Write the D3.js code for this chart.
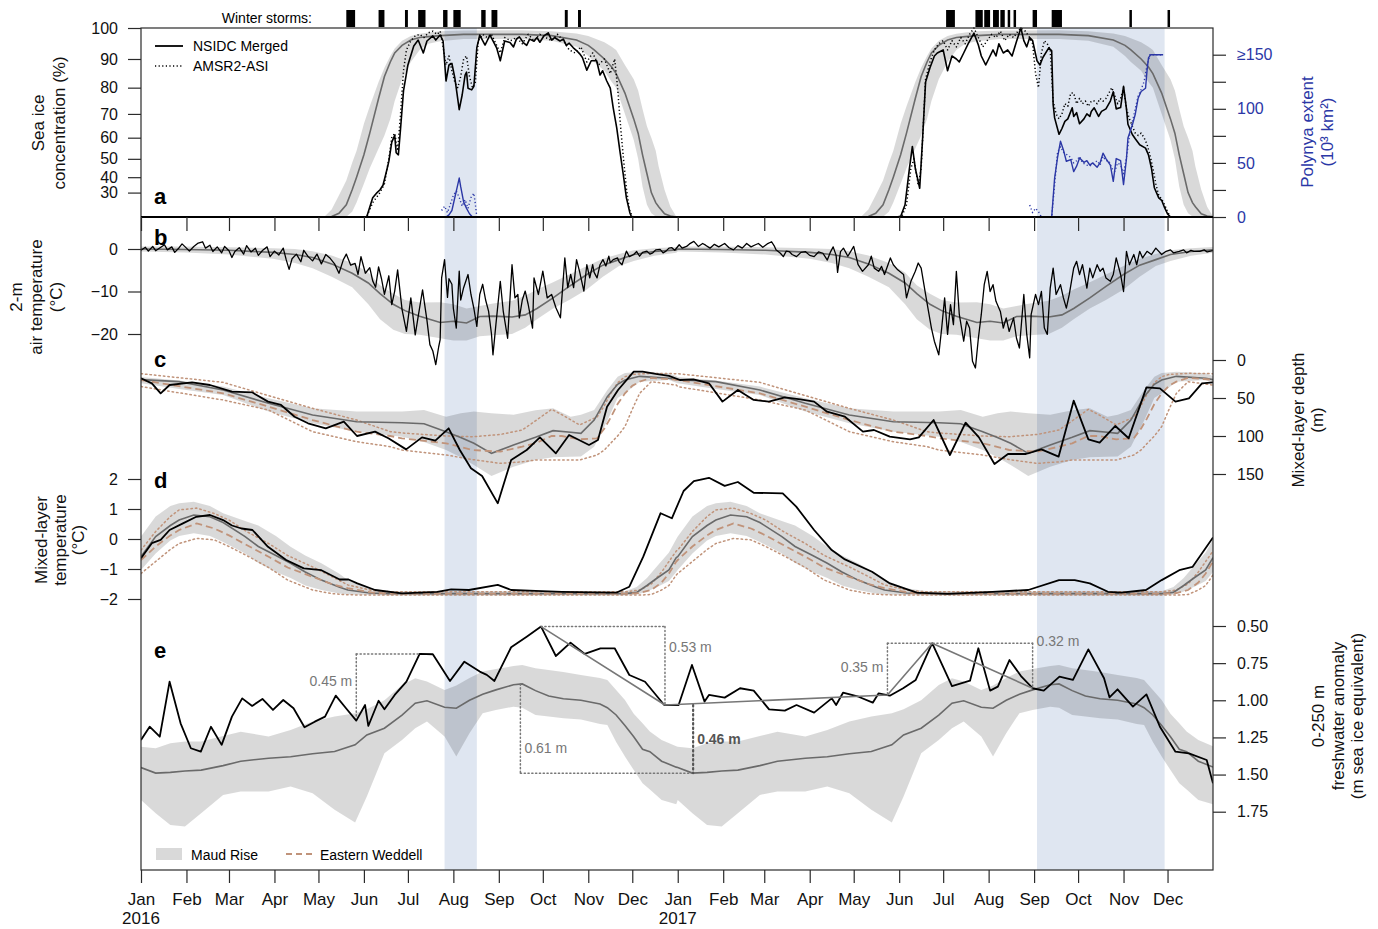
<!DOCTYPE html>
<html>
<head>
<meta charset="utf-8">
<title>Maud Rise 2016-2017</title>
<script src="https://d3js.org/d3.v7.min.js"></script>
<style>
  body { margin: 0; background: #fff; }
  text { font-family: "Liberation Sans", Arial, Helvetica, sans-serif; }
</style>
</head>
<body>
<div id="chart"></div>
<script>
// ---------------- data ----------------
// "day" = days since 1 Jan 2016, "doy" = day of year (climatologies, repeated for both years)
var monthNames = ["Jan","Feb","Mar","Apr","May","Jun","Jul","Aug","Sep","Oct","Nov","Dec"];
var yearLabels = [["2016-01-01","2016"],["2017-01-01","2017"]];
var climYears = [2016, 2017];

var winterStorms = [
  ["2016-05-20","2016-05-26"],["2016-06-11","2016-06-15"],["2016-06-29","2016-07-01"],["2016-07-08","2016-07-13"],
  ["2016-07-25","2016-07-28"],["2016-08-01","2016-08-06"],["2016-08-20","2016-08-23"],["2016-08-27","2016-08-31"],
  ["2016-10-16","2016-10-18"],["2016-10-25","2016-10-27"],
  ["2017-07-03","2017-07-09"],["2017-07-23","2017-07-28"],["2017-07-29","2017-08-02"],["2017-08-04","2017-08-08"],
  ["2017-08-09","2017-08-12"],["2017-08-14","2017-08-15"],["2017-08-18","2017-08-19"],["2017-08-31","2017-09-03"],
  ["2017-09-13","2017-09-20"],["2017-11-05","2017-11-06"],["2017-12-01","2017-12-02"]
];
var polynyaPeriods = [["2016-07-26","2016-08-17"],["2017-09-03","2017-11-29"]];

// (a) sea ice concentration, %
var iceTicks = [30,40,50,60,70,80,90,100];
var iceClim = [ // doy, low, median, high (Maud Rise)
  [0,0,0,0],[120,0,0,0],[125,0,0,2],[130,0,3,15],[135,0,10,28],[140,2,20,38],[144,12,32,48],[147,22,40,54],
  [152,36,52,66],[156,45,62,73],[162,55,76,82],[166,61,84,87],[170,68,89,91],[173,75,92,93.5],[178,83,94.5,96],
  [184,89,96.2,97.5],[190,93,97,98.2],[196,95,97.3,98.6],[204,95.8,97.6,99],[220,96.5,98,99.2],[260,96.5,98,99.3],
  [280,96,97.6,99],[297,94,96.2,98.3],[305,91,94.5,97.5],[309,89,93,96.8],[316,86,90,95.5],[321,82,87.3,94],
  [324,80,85,93],[330,70,78,88],[336,59,68,83],[339,50,62,79],[342,34,52,72],[345,20,42,65],[348,10,30,60],
  [351,3,22,54],[353,0,18,46],[357,0,9,32],[361,0,4.6,18],[365,0,1,3]
];
var nsidcMerged = [
  [0,0],[150,0],[154,3],[158,26],[161,30],[163,32],[165,35],[167,42],[169,48.7],[171,58],[173,61],[174,53],[175.5,52],
  [177,64],[179,78.8],[182,88],[186,94.3],[189,96.2],[192.5,92],[195,95.9],[199,97.5],[201,96.2],[204,97.8],[206,95.9],
  [208,82.4],[210,88],[212,88.5],[214,83.5],[217,71.7],[219,77.3],[221,84.5],[222,85.5],[223,79.8],[225.5,79.2],[227,80.5],
  [229,93.7],[231,97.8],[234.6,94.6],[238,97.8],[242.5,93.7],[245,89.4],[248,95.9],[251.6,95.4],[254,94],[256,96.5],
  [258,97.2],[260.7,95.4],[263,94.5],[265,96.5],[268,95.8],[270,97],[272,95.5],[274.7,97.5],[277.7,98.5],[280,96.2],
  [282,97],[285.7,95.9],[288,96.5],[290,94.5],[292,95.2],[294.8,93.7],[297,92.8],[299,91.8],[301,90.5],[304,86.2],
  [307,89.4],[310.7,89.4],[313,84.5],[314.8,86],[317.6,82.4],[320,79.8],[322,72.4],[324.4,64.3],[326.6,53.7],
  [328.9,41.4],[331,26],[333.4,10.4],[334.5,0],
  [515,0],[518,3],[521,20],[524,45],[526,56],[528,45],[531,33],[533,60],[535,82],[538,87],[541,91],[543,92],[547,93],
  [550,86],[553,91],[556,90],[558,89],[561,92],[564,95],[568,98.4],[571,94.6],[573,91],[576,88],[578,90],[581,93],
  [583,91],[585,95],[588,92],[591,93],[594,91],[597,95.7],[600,100],[602,96],[604,94],[606,97],[608,96],[611,89.4],
  [613,88],[615,90.5],[619,93.7],[621,92.7],[622,73.6],[623,68.4],[626,61.5],[628,64],[630,67],[632,68],[635,72.4],
  [636,69],[638,70.5],[640,66],[643,68],[645,70],[647,69],[648,71],[650,72.4],[653,69],[655,71],[658,72],[661,75],
  [663,78.5],[665,72],[668,72.5],[670,80.5],[672,72],[673,65.8],[676,61.4],[678,59.5],[681,56.8],[685,55.2],[687,52],
  [689,45.2],[691,33.4],[694,26],[696,24],[698,17],[700,9],[702,0],[731,0]
];
var amsr2Asi = [
  [0,0],[150,0],[154,2],[158,22],[163,30],[166,36],[169,50],[171,60],[173,62],[175,54],[177,70],[179,86],[181,93],
  [184,96],[187,97.5],[190,98],[193,97],[196,98.5],[199,99],[202,98],[204,99],[206,94],[208,88],[210,91],[212,86],
  [214,82],[216,80],[218,84],[220,90],[222,91],[224,84],[226,80],[228,82],[230,96],[233,98],[236,97],[239,98],
  [242,95],[245,92],[248,97],[252,96],[256,97],[260,95],[264,98],[268,96],[272,98],[276,97],[280,96],[284,98],
  [288,96],[292,93],[296,92],[300,94],[304,89],[308,92],[312,88],[316,90],[320,85],[323,90],[325,80],[327,65],
  [329,50],[331,33],[333,15],[335,3],[337,0],
  [515,0],[519,5],[522,20],[525,45],[527,50],[530,35],[532,45],[535,83],[538,89],[541,93],[544,95],[547,96],[550,93],
  [553,96],[556,94],[559,97],[562,95],[565,98],[568,100],[571,97],[574,94],[577,96],[580,98],[583,97],[586,99],
  [589,96],[592,98],[595,97],[598,99],[600,100],[603,99],[606,97],[608,95],[610,85],[612,80],[614,92],[616,96],
  [618,95],[620,93],[622,75],[624,70],[626,68],[628,70],[630,74],[632,73],[634,78],[636,78],[638,74],[640,76],
  [642,74],[644,75],[646,73],[648,75],[650,75],[652,74],[654,76],[656,75],[658,76],[660,78],[662,80],[664,77],
  [666,74],[668,76],[670,80],[672,72],[674,68],[676,65],[678,62],[680,61],[682,62],[684,60],[686,57],[688,52],
  [690,45],[692,36],[694,28],[696,25],[698,20],[700,12],[702,2],[704,0],[731,0]
];
// polynya extent, 10^3 km2 (150 = ">=150")
var polynyaTicks = [0,25,50,75,100,125,150];
var polynyaLabels = {0:"0",50:"50",100:"100",150:"\u2265150"};
var polynyaNsidc2016 = [[208,0],[210,2],[212,6],[214,18],[216,30],[217,36],[218,28],[220,14],[222,8],[224,3],[226,0],[229,0]];
var polynyaAmsr2016 = [[205,6],[207,10],[209,4],[211,12],[213,20],[215,24],[217,18],[219,10],[221,16],[223,8],[225,18],[227,22],[228,12],[229,0]];
var polynyaNsidc2017 = [
  [612,0],[621,0],[623,36],[625,55],[627,70],[629,62],[631,51.5],[634,53],[636,42],[638,47],[640,54.5],[643,50.5],
  [645,52],[647,48],[649,50],[652,46],[654,50],[656,59],[658,54],[661,48],[663,33],[665,54],[668,52],[670,30],[672,54],
  [673,73],[676,85],[678,95],[680,110],[682,116],[685,119],[686,135],[687,147],[688.5,150],[697,150]
];
var polynyaAmsr2017 = [
  [606,11],[608,4],[610,8],[612,5],[614,0],[621,0],[623,30],[625,60],[627,65],[629,60],[631,58],[634,55],[636,50],
  [638,52],[640,56],[642,50],[645,48],[647,47],[650,50],[652,52],[654,48],[656,56],[658,52],[660,52],[662,45],[664,42],
  [666,50],[668,48],[670,40],[672,55],[674,75],[676,88],[678,100],[680,112],[682,118],[684,125],[686,140],[688,150],[697,150]
];

// (b) 2-m air temperature, degC
var airTicks = [0,-10,-20];
var airClim = [ // doy, cold edge, median, warm edge
  [0,-0.6,0,0.6],[30,-0.8,-0.1,0.6],[60,-1.3,-0.3,0.4],[90,-2.3,-0.8,0.2],[105,-3.3,-1.3,0],[117,-4.5,-2,-0.5],
  [130,-6.5,-3.5,-1.5],[144,-9,-5.7,-3.3],[155,-13,-8,-5.5],[163,-16.5,-10.5,-8.5],[172,-19,-13,-10.5],[180,-20,-14.5,-12],
  [190,-20.2,-15.8,-12.6],[204,-21,-17.3,-12.5],[213,-21.5,-17,-13],[222,-21.5,-17.4,-14],[231,-20.5,-15.9,-13.4],
  [240,-20.3,-15.8,-12.8],[253,-20,-16,-12.2],[262,-18.5,-15.5,-11],[270,-16.5,-14,-9.5],[281,-14,-11.5,-7.8],
  [292,-12,-8.8,-6],[304,-9.5,-6,-4],[315,-6.5,-3.8,-2.3],[326,-4,-2.5,-1.2],[336,-2.8,-1.3,-0.3],[350,-1.6,-0.6,0.2],
  [365,-0.9,-0.2,0.5]
];
var airTemp = [
  [0,-0.3],[3,0.4],[5,-0.5],[8,0.6],[10,-0.4],[13,0.3],[16,1],[18,-0.2],[21,0.5],[23,-0.8],[26,0.3],[28,1.2],[31,0.2],
  [33,-0.5],[36,0.6],[39,1.4],[42,1.7],[44,0.2],[47,0.9],[49,-0.6],[52,0.5],[55,-0.9],[57,0.6],[60,-0.4],[62,-2],
  [64,-0.6],[67,0.3],[70,-1.2],[72,0.8],[75,-0.7],[78,0.2],[80,-1.5],[83,-0.3],[86,0.5],[88,-1.8],[91,-0.5],[94,-1.4],
  [97,0.2],[99,-2.5],[101,-4.8],[103,-2.3],[106,-1.2],[109,-3],[111,-0.3],[114,-1.8],[117,-2.8],[120,-1.2],[123,-3.5],
  [126,-1.3],[129,-2.2],[132,-3.5],[135,-5.7],[138,-2.5],[140,-1.2],[143,-3.8],[146,-3.4],[148,-6],[150,-1.8],
  [153,-5.7],[156,-4.4],[158,-7.5],[160,-9],[162,-4.2],[164,-7],[166,-10.7],[169,-6.3],[171,-13.1],[173,-9.9],
  [175,-4.9],[178,-14.2],[181,-19.4],[184,-11.5],[187,-20.2],[189,-15.9],[192,-9.6],[195,-16.8],[197,-22.5],[199,-24],
  [201,-27.2],[203,-23],[204,-21.3],[205,-6.8],[207,-2.5],[209,-11.4],[210,-7],[212,-8.3],[213,-14],[215,-18.6],
  [217,-5.2],[218,-12],[220,-9.1],[223,-6],[225,-10.7],[227,-14],[229,-18.2],[231,-10.7],[233,-8.3],[235,-12],
  [237,-14.6],[239,-20],[240,-24.9],[242,-17.8],[245,-7.6],[247,-14.6],[250,-21],[253,-3.7],[255,-11.5],[257,-10.7],
  [258,-16.2],[260,-12],[262,-9.9],[264,-13],[267,-18.6],[268,-6.8],[271,-10.7],[274,-5.2],[277,-11.5],[280,-10.7],
  [283,-13.9],[286,-16.2],[289,-2.1],[291,-9.1],[293,-6],[295,-9.1],[297,-2.5],[299,-5.2],[302,-9.9],[304,-3.7],
  [306,-6.8],[308,-3.7],[309,-5.5],[311,-6.8],[313,-3.7],[315,-2.5],[317,-4],[319,-1.7],[320,-3.2],[322,-2.5],
  [325,-2.1],[326,-3],[328,-3.7],[331,-0.5],[333,-1.8],[336,-1.3],[338,-0.6],[340,-1.7],[342,-0.8],[345,-0.5],
  [347,-1.2],[349,-0.9],[351,-0.2],[354,-0.1],[356,-0.9],[358,-0.5],[360,0.2],[362,0.3],[364,-0.3],[367,1],[369,0.2],
  [372,0.6],[374,1.2],[377,1.8],[380,0.6],[383,1.3],[385,0.9],[388,0.2],[391,1.1],[394,0.5],[398,1.3],[401,0.3],
  [404,-0.2],[407,0.8],[410,0.2],[413,1.3],[416,0.5],[419,1],[421,1.3],[424,0.4],[427,1.2],[430,1.7],[432,0.6],
  [433,-0.2],[436,-1],[438,-1.8],[440,-0.5],[442,-0.6],[444,-1.3],[447,-1.8],[450,-0.8],[453,-0.6],[456,-1.5],
  [459,-1.8],[462,-0.7],[465,-1],[468,-2.6],[470,-0.8],[472,0.5],[474,-1.5],[475,-5.5],[477,-0.6],[479,0.2],[482,-1.7],
  [486,0.6],[489,-3.7],[492,-5.25],[496,-3.7],[498,-1.7],[500,-4.5],[503,-5.25],[505,-4.1],[507,-6],[511,-2.1],
  [513,-3.7],[516,-4.9],[520,-6],[522,-11.5],[525,-7.6],[528,-5.25],[530,-3.3],[532,-4.5],[535,-10.7],[537,-14.7],
  [539,-18.6],[541,-21.7],[544,-24.9],[546,-18.6],[548,-11.5],[550,-20.1],[552,-13.1],[554,-17.8],[556,-5.25],
  [558,-15.4],[561,-21.7],[563,-17],[565,-18.6],[567,-26.4],[569,-28],[571,-21],[573,-15.4],[575,-8.4],[577,-5.25],
  [579,-10],[581,-8.4],[583,-12.3],[586,-14.7],[588,-18.6],[590,-16.2],[592,-19.4],[595,-16.2],[597,-21],[599,-23.3],
  [602,-10.7],[604,-20.1],[606,-25.6],[607,-15.4],[610,-10.7],[612,-13.1],[614,-10],[616,-18.6],[618,-20.1],
  [620,-9.2],[622,-4.5],[624,-10.7],[627,-8.4],[629,-11.5],[631,-13.9],[633,-10.7],[636,-4.5],[638,-2.9],[640,-6],
  [642,-3.7],[645,-9.2],[647,-4.5],[649,-6.8],[652,-3.7],[654,-5.25],[656,-4.5],[658,-6.8],[661,-7.6],[663,-6],
  [665,-2.1],[668,-6],[670,-10],[672,-0.55],[674,-3.7],[677,-1.3],[679,-3.7],[681,-0.55],[683,-2.1],[686,-0.55],
  [689,-1.3],[692,0.2],[696,-1.3],[699,-0.55],[702,-0.2],[704,-0.9],[708,-0.55],[711,-0.2],[713,-0.9],[716,-0.3],
  [718,-0.55],[722,-0.55],[725,-0.2],[727,-0.7],[731,-0.4]
];

// (c) mixed-layer depth, m
var mldTicks = [0,50,100,150];
var mldMaud = [ // doy, shallow edge, median, deep edge
  [0,22.4,25.8,30.7],[26,27,28.5,38],[56,35,39.5,46],[87,50.4,57,67.9],[117,63.6,72.4,83.3],[147,67.9,81.2,94.3],
  [178,67.9,82.5,100.9],[193,65.8,83.8,108],[208,74.6,94.3,118.4],[218,70,102,128],[227,67.9,109.6,138],
  [239,70,122.8,152.6],[254,72,111.8,140.4],[269,66,101.8,131.6],[281,63.6,93,128],[293,74.6,95,127.2],
  [300,72,96.5,127],[309,65.8,79,114],[318,39.5,48.3,80],[325,22,32,50],[330,17,26.3,43.9],[340,15.4,21.5,28.5],
  [360,17.5,24,26.3],[365,21,25.8,30]
];
var mldWeddell = [ // doy, shallow dotted, dashed median, deep dotted
  [0,18,26.3,35],[56,29.4,43.9,52.6],[87,46.9,61.4,65.8],[117,63.6,79,94.3],[147,79,94.3,107.5],[170,94.3,100,114],
  [178,96,103,118.4],[208,100,109.6,125],[226,101,118.4,131],[245,98,120.6,136],[260,92.1,114,134],[269,80,109.6,131.6],
  [280,64.9,100,131.6],[287,72,100,131.6],[299,85.5,104.4,131.6],[311,75,103,125],[316,60,90,118.4],[320,45,76.8,110],
  [325,30,58,100],[330,22,43.9,87.7],[335,19,34,65],[340,18.4,28.5,43.9],[348,17.5,23.5,28.5],[365,18,26,33]
];
var mldFloat = [
  [0,24],[7.4,30.7],[13.4,43.9],[19.5,32.9],[34.8,29.4],[47,32.9],[62,41.7],[75.7,42.5],[86.6,54.8],[95.5,59.2],
  [104.7,74.6],[113.9,83.3],[126,89.9],[138.3,81.2],[147.3,100],[159.6,94.3],[168.7,103],[180.8,117.6],[191.6,101.8],
  [200.7,106.1],[209.8,89.9],[217.4,118.4],[225,142.5],[232.6,152.6],[243.3,188.6],[252.4,131.6],[263,118.4],
  [272,101.8],[282.9,122.8],[291.9,98.7],[305.5,111.8],[311.6,105.3],[317.8,61.4],[325.3,39.5],[336,15.4],[342,15.4],
  [351,18.4],[360,21],[367.5,26.3],[376.7,25.4],[387.3,30.7],[396.5,54.8],[407,39.5],[417.8,52.6],[428.2,54.8],
  [439,49.1],[449.7,51.8],[459,54.8],[467.8,68],[480,74.6],[492.3,94.3],[499.8,92.1],[510.6,100.9],[524.4,104.4],
  [530.4,101.8],[540.5,79],[551.6,125],[562.3,82.5],[571.4,101.8],[582,136.8],[591.2,123.7],[603.4,123.7],[614,117.5],
  [625.7,127.2],[636,53.5],[646,104.4],[653.7,108.8],[664.4,86.8],[673.5,103],[685.6,36],[694.8,37.3],[705.4,54.8],
  [714.6,50.4],[723.5,30.7],[731,29.4]
];

// (d) mixed-layer temperature, degC
var mltTicks = [2,1,0,-1,-2];
var mltMaud = [ // doy, cold edge, median, warm edge
  [0,-1.03,-0.59,0.08],[10,-0.48,0.08,0.75],[20,-0.05,0.45,1.1],[26,0.1,0.63,1.19],[36,0.19,0.8,1.24],[47,0.1,0.74,1.1],
  [56,-0.1,0.55,0.86],[71,-0.48,0.08,0.6],[80,-0.8,-0.25,0.45],[92,-1.1,-0.55,0.1],[102,-1.3,-0.81,-0.26],
  [112,-1.55,-1.1,-0.55],[123,-1.7,-1.37,-0.81],[135,-1.82,-1.6,-1.15],[141,-1.85,-1.7,-1.37],[156,-1.87,-1.8,-1.64],
  [170,-1.88,-1.82,-1.74],[330,-1.88,-1.82,-1.74],[338,-1.86,-1.78,-1.6],[345,-1.75,-1.55,-1.3],[352,-1.6,-1.3,-0.9],
  [360,-1.4,-1.03,-0.45],[365,-1.1,-0.62,0]
];
var mltWeddell = [ // doy, cold dotted, dashed median, warm dotted
  [0,-1.15,-0.7,-0.37],[10,-0.75,-0.25,0.25],[20,-0.35,0.12,0.75],[26,-0.15,0.3,0.97],[38,0.02,0.52,1.03],
  [50,-0.03,0.35,0.85],[60,-0.25,0.12,0.63],[72,-0.55,-0.2,0.25],[87,-0.95,-0.59,-0.15],[100,-1.37,-0.95,-0.55],
  [117,-1.7,-1.26,-0.93],[130,-1.82,-1.5,-1.25],[141,-1.86,-1.64,-1.53],[158,-1.87,-1.79,-1.72],[170,-1.87,-1.82,-1.76],
  [330,-1.87,-1.82,-1.76],[340,-1.87,-1.8,-1.7],[348,-1.85,-1.7,-1.5],[355,-1.7,-1.45,-1.1],[360,-1.55,-1.15,-0.75],
  [365,-1.2,-0.75,-0.4]
];
var mltFloat = [
  [0,-0.64],[7.4,-0.14],[13.4,-0.03],[19.5,0.3],[28.6,0.52],[37.7,0.74],[47,0.8],[56,0.63],[62,0.45],[68.5,0.35],
  [76,0.3],[86.6,-0.26],[99,-0.7],[111,-0.98],[123,-1.04],[135.5,-1.35],[141.5,-1.35],[147.5,-1.48],[159.6,-1.7],
  [178,-1.81],[202,-1.76],[211.5,-1.68],[223.6,-1.7],[243.3,-1.53],[252.4,-1.7],[269,-1.73],[287,-1.76],[309,-1.78],
  [324,-1.79],[333,-1.59],[342.5,-0.59],[354.3,0.86],[362,0.69],[370,1.6],[377,1.93],[387.3,2.04],[398,1.77],
  [407,1.9],[417.8,1.54],[437.6,1.52],[446.8,1.08],[459,0.3],[471,-0.37],[480,-0.68],[498.5,-1.09],[510.7,-1.48],
  [529,-1.79],[550,-1.83],[580.6,-1.76],[605,-1.7],[626,-1.37],[636.7,-1.37],[647,-1.48],[659.4,-1.76],[668.5,-1.79],
  [685.3,-1.7],[696,-1.37],[708,-1.04],[717,-0.93],[731,0.05]
];

// (e) 0-250 m freshwater anomaly, m sea ice equivalent
var fwTicks = [0.5,0.75,1,1.25,1.5,1.75];
var fwMaud = [ // doy, top edge, median, bottom edge
  [0,1.312,1.453,1.671],[10,1.323,1.49,1.76],[20,1.29,1.485,1.84],[30,1.278,1.476,1.85],[41,1.278,1.47,1.76],
  [56,1.24,1.44,1.637],[68,1.211,1.41,1.614],[87,1.244,1.39,1.614],[102,1.2,1.38,1.58],[117,1.143,1.36,1.625],
  [132,1.11,1.345,1.737],[146,1.087,1.3,1.823],[154,1.06,1.233,1.648],[166,1.0,1.188,1.357],[178,0.897,1.1,1.267],
  [187,0.852,1.02,1.188],[195,0.874,1.003,1.143],[207,0.93,1.047,1.244],[215,0.9,1.054,1.379],[224,0.85,1.0,1.222],
  [233,0.807,0.96,1.087],[242,0.79,0.93,1.065],[254,0.77,0.895,1.043],[260,0.762,0.89,1.05],[269,0.785,0.935,1.099],
  [278,0.796,0.971,1.11],[288,0.81,0.99,1.121],[300,0.829,1.0,1.13],[313,0.85,1.025,1.16],[318,0.863,1.05,1.166],
  [324,0.93,1.099,1.28],[330,0.998,1.17,1.379],[336,1.09,1.245,1.47],[342,1.155,1.33,1.558],[347,1.21,1.346,1.6],
  [355,1.267,1.41,1.671],[365,1.31,1.45,1.7]
];
var fwFloat = [
  [0,1.267],[5.9,1.178],[12.8,1.245],[19.5,0.875],[27,1.155],[34,1.323],[40.8,1.346],[47.7,1.178],[55,1.3],[62,1.11],
  [69,0.987],[75.8,1.038],[82.8,0.991],[90,1.065],[97,0.998],[104,1.054],[111.5,1.182],[118.5,1.144],[125.5,1.11],
  [132.8,0.969],[139.8,1.054],[146.8,1.137],[152.8,1.032],[155,1.173],[162,1.003],[166,1.061],[173,0.964],[181,0.875],
  [190,0.688],[199,0.69],[210.7,0.87],[220.5,0.74],[231,0.807],[235.8,0.829],[241,0.87],[252.4,0.643],[263,0.572],
  [272.8,0.504],[282.9,0.702],[292.9,0.612],[302.6,0.688],[313.3,0.65],[323,0.65],[333,0.83],[343.7,0.875],
  [356.8,1.032],[366.6,1.032],[375.7,0.762],[384.3,1.009],[387.3,0.964],[398,0.982],[408.5,0.919],[417.8,0.935],
  [428.3,1.061],[439,1.07],[447,1.032],[459,1.083],[471,0.987],[474,1.032],[478.7,0.949],[489.3,0.976],[499,1.016],
  [503,0.953],[510.6,0.969],[519.7,0.919],[528.3,0.863],[539.5,0.616],[553,0.904],[565.3,0.868],[571,0.65],[579,0.935],
  [584.3,0.908],[592.2,0.729],[600.4,0.841],[608,0.919],[615.6,0.935],[626.3,0.841],[635.5,0.863],[646,0.657],
  [656.7,0.852],[660.4,0.98],[665.9,0.926],[676.4,1.043],[685.6,0.96],[694.8,1.178],[705.4,1.346],[714.6,1.357],
  [726.7,1.402],[731,1.559]
];
// annotation: dotted guides [day1, value1, day2, value2, bold], solid trend polyline, labels [day, value, text, anchor, bold]
var fwGuides = [
  [146.8,0.688,190,0.688,0],[146.8,0.688,146.8,1.12,0],
  [272.8,0.504,357.3,0.504,0],[357.3,0.504,357.3,1.032,0],
  [258.7,0.89,258.7,1.491,0],[258.7,1.491,376.5,1.491,0],[376.5,1.032,376.5,1.491,1],
  [509,0.616,608,0.616,0],[509,0.616,509,0.964,0],[608,0.616,608,0.919,0]
];
var fwTrend = [[272.8,0.504],[357.3,1.032],[509,0.964],[539.5,0.616],[608,0.919]];
var fwLabels = [
  [146.8,0.87,"0.45 m","end",0],[357.3,0.64,"0.53 m","start",0],[258.7,1.32,"0.61 m","start",0],
  [376.5,1.26,"0.46 m","start",1],[509,0.78,"0.35 m","end",0],[608,0.6,"0.32 m","start",0]
];

// ---------------- chart ----------------
var DAY = 864e5;
var T0 = Date.UTC(2016, 0, 1);
var L = 141, R = 1213, TOP = 28, BOTTOM = 870;
var INK = "#2a2a2a", MED = "#6a6a6a", BROWN = "#c0937a", BLUE = "#2b37a6", BAND = "#dfe6f1";

function dayDate(d) { return new Date(T0 + d * DAY); }
function parse(s) { var p = s.split("-"); return new Date(Date.UTC(+p[0], +p[1] - 1, +p[2])); }
function climRows(rows) {
  var out = [];
  climYears.forEach(function(yr) {
    rows.forEach(function(r) {
      out.push({date: new Date(Date.UTC(yr, 0, 1) + r[0] * DAY), lo: r[1], mid: r[2], hi: r[3]});
    });
  });
  return out;
}

var svg = d3.select("#chart").append("svg")
  .attr("width", 1378).attr("height", 929)
  .style("font-family", "'Liberation Sans', Arial, sans-serif");

svg.append("defs").append("clipPath").attr("id", "plot")
  .append("rect").attr("x", L).attr("y", 0).attr("width", R - L).attr("height", 929);

var x = d3.scaleUtc().domain([new Date(T0), new Date(Date.UTC(2018, 0, 1))]).range([L, R]);
var yIce = d3.scalePow().exponent(1.7).domain([0, 100]).range([217, TOP]);
var yPoly = d3.scaleLinear().domain([0, 150]).range([217, 54.7]);
var yAir = d3.scaleLinear().domain([-20, 0]).range([334, 249]);
var yMld = d3.scaleLinear().domain([0, 150]).range([360, 474]);
var yMlt = d3.scaleLinear().domain([-2, 2]).range([599, 479]);
var yFw = d3.scaleLinear().domain([0.5, 1.75]).range([626, 811.7]);

// polynya periods (blue shading)
svg.append("g").selectAll("rect").data(polynyaPeriods).enter().append("rect")
  .attr("x", function(d) { return x(parse(d[0])); })
  .attr("width", function(d) { return x(parse(d[1])) - x(parse(d[0])); })
  .attr("y", TOP).attr("height", BOTTOM - TOP)
  .attr("fill", BAND);

var plot = svg.append("g").attr("clip-path", "url(#plot)");

function band(rows, y) {
  plot.append("path").datum(climRows(rows))
    .attr("fill", "#000").attr("fill-opacity", 0.15)
    .attr("d", d3.area().x(function(d) { return x(d.date); })
      .y0(function(d) { return y(d.lo); }).y1(function(d) { return y(d.hi); }));
}
function climLine(rows, y, key, color, width, dash) {
  plot.append("path").datum(climRows(rows))
    .attr("fill", "none").attr("stroke", color).attr("stroke-width", width)
    .attr("stroke-dasharray", dash || null).attr("stroke-linecap", dash === "1.5,3" ? "round" : null)
    .attr("d", d3.line().x(function(d) { return x(d.date); }).y(function(d) { return y(d[key]); }));
}
function series(rows, y, color, width, dash) {
  plot.append("path").datum(rows)
    .attr("fill", "none").attr("stroke", color).attr("stroke-width", width)
    .attr("stroke-linejoin", "round")
    .attr("stroke-dasharray", dash || null)
    .attr("d", d3.line().x(function(d) { return x(dayDate(d[0])); }).y(function(d) { return y(d[1]); }));
}

// (a)
band(iceClim, yIce);
climLine(iceClim, yIce, "mid", MED, 1.6);
series(amsr2Asi, yIce, "#000", 1.5, "1.2,2.4");
series(nsidcMerged, yIce, "#000", 1.6);
series(polynyaAmsr2016, yPoly, BLUE, 1.4, "1.2,2.4");
series(polynyaAmsr2017, yPoly, BLUE, 1.4, "1.2,2.4");
series(polynyaNsidc2016, yPoly, BLUE, 1.4);
series(polynyaNsidc2017, yPoly, BLUE, 1.4);

// (b)
band(airClim, yAir);
climLine(airClim, yAir, "mid", MED, 1.6);
series(airTemp, yAir, "#000", 1.3);

// (c)
band(mldMaud, yMld);
climLine(mldWeddell, yMld, "lo", BROWN, 1.5, "1.5,3");
climLine(mldWeddell, yMld, "hi", BROWN, 1.5, "1.5,3");
climLine(mldMaud, yMld, "mid", MED, 1.6);
climLine(mldWeddell, yMld, "mid", BROWN, 1.8, "7,4");
series(mldFloat, yMld, "#000", 1.8);

// (d)
band(mltMaud, yMlt);
climLine(mltWeddell, yMlt, "lo", BROWN, 1.5, "1.5,3");
climLine(mltWeddell, yMlt, "hi", BROWN, 1.5, "1.5,3");
climLine(mltMaud, yMlt, "mid", MED, 1.6);
climLine(mltWeddell, yMlt, "mid", BROWN, 1.8, "7,4");
series(mltFloat, yMlt, "#000", 1.8);

// (e)
band(fwMaud, yFw);
climLine(fwMaud, yFw, "mid", MED, 1.6);
series(fwFloat, yFw, "#000", 1.8);
series(fwTrend, yFw, "#777", 1.6);
fwGuides.forEach(function(g) {
  plot.append("line")
    .attr("x1", x(dayDate(g[0]))).attr("y1", yFw(g[1]))
    .attr("x2", x(dayDate(g[2]))).attr("y2", yFw(g[3]))
    .attr("stroke", g[4] ? "#555" : "#777").attr("stroke-width", g[4] ? 2.2 : 1.5)
    .attr("stroke-dasharray", g[4] ? "1.5,3" : "1.2,2.6").attr("stroke-linecap", "round");
});
fwLabels.forEach(function(l) {
  svg.append("text")
    .attr("x", x(dayDate(l[0])) + (l[3] === "end" ? -4 : 4)).attr("y", yFw(l[1]))
    .attr("dy", "0.35em").attr("text-anchor", l[3])
    .attr("fill", l[4] ? "#555" : "#777").style("font-size", "14px")
    .style("font-weight", l[4] ? "bold" : "normal").text(l[2]);
});

// winter storms
svg.append("g").selectAll("rect").data(winterStorms).enter().append("rect")
  .attr("x", function(d) { return x(parse(d[0])); })
  .attr("width", function(d) { return Math.max(2.5, x(parse(d[1])) - x(parse(d[0]))); })
  .attr("y", 10).attr("height", 17).attr("fill", "#000");
svg.append("text").attr("x", 312).attr("y", 23).attr("text-anchor", "end")
  .style("font-size", "14px").text("Winter storms:");

// frame
svg.append("rect").attr("x", L).attr("y", TOP).attr("width", R - L).attr("height", BOTTOM - TOP)
  .attr("fill", "none").attr("stroke", INK).attr("stroke-width", 1.2);
svg.append("line").attr("x1", L).attr("x2", R).attr("y1", 217).attr("y2", 217)
  .attr("stroke", "#000").attr("stroke-width", 2);

// axes
function styleAxis(g, size) {
  g.select(".domain").remove();
  g.selectAll(".tick line").attr("stroke", INK).attr("stroke-width", 1.2);
  g.selectAll(".tick text").attr("fill", "#111").style("font-size", size || "16px")
    .style("font-family", "'Liberation Sans', Arial, sans-serif");
  return g;
}
var months = d3.utcMonth.range(new Date(T0), new Date(Date.UTC(2018, 0, 1)));

svg.append("g").attr("transform", "translate(0,217)")
  .call(d3.axisBottom(x).tickValues(months).tickSize(14).tickFormat(""))
  .call(styleAxis);
svg.append("g").attr("transform", "translate(0," + BOTTOM + ")")
  .call(d3.axisBottom(x).tickValues(months).tickSize(13).tickPadding(10)
    .tickFormat(function(d) { return monthNames[d.getUTCMonth()]; }))
  .call(styleAxis, "17px");
yearLabels.forEach(function(yl) {
  svg.append("text").attr("x", x(parse(yl[0]))).attr("y", 924)
    .attr("text-anchor", "middle").style("font-size", "17px").attr("fill", "#111").text(yl[1]);
});

svg.append("g").attr("transform", "translate(" + L + ",0)")
  .call(d3.axisLeft(yIce).tickValues(iceTicks).tickSize(13).tickPadding(10))
  .call(styleAxis);
svg.append("g").attr("transform", "translate(" + L + ",0)")
  .call(d3.axisLeft(yAir).tickValues(airTicks).tickSize(13).tickPadding(10).tickFormat(d3.format("d")))
  .call(styleAxis);
svg.append("g").attr("transform", "translate(" + L + ",0)")
  .call(d3.axisLeft(yMlt).tickValues(mltTicks).tickSize(13).tickPadding(10).tickFormat(d3.format("d")))
  .call(styleAxis);

var polyAxis = svg.append("g").attr("transform", "translate(" + R + ",0)")
  .call(d3.axisRight(yPoly).tickValues(polynyaTicks).tickSize(13).tickPadding(11)
    .tickFormat(function(d) { return polynyaLabels[d] || ""; }))
  .call(styleAxis);
polyAxis.selectAll(".tick text").attr("fill", BLUE);
svg.append("g").attr("transform", "translate(" + R + ",0)")
  .call(d3.axisRight(yMld).tickValues(mldTicks).tickSize(13).tickPadding(11))
  .call(styleAxis);
svg.append("g").attr("transform", "translate(" + R + ",0)")
  .call(d3.axisRight(yFw).tickValues(fwTicks).tickSize(13).tickPadding(11).tickFormat(d3.format(".2f")))
  .call(styleAxis);

// axis titles (rotated, several lines)
function vtitle(cx, cy, gap, lines, color) {
  lines.forEach(function(s, i) {
    svg.append("text")
      .attr("transform", "translate(" + (cx + i * gap + 6) + "," + cy + ") rotate(-90)")
      .attr("text-anchor", "middle").attr("fill", color || "#111")
      .style("font-size", "17px").text(s);
  });
}
vtitle(38, 123, 21, ["Sea ice", "concentration (%)"]);
vtitle(16, 297, 20, ["2-m", "air temperature", "(\u00B0C)"]);
vtitle(41, 540, 18.5, ["Mixed-layer", "temperature", "(\u00B0C)"]);
vtitle(1307, 132, 20, ["Polynya extent", "(10\u00B3 km\u00B2)"], BLUE);
vtitle(1298, 420, 19, ["Mixed-layer depth", "(m)"]);
vtitle(1318, 716, 19.5, ["0-250 m", "freshwater anomaly", "(m sea ice equivalent)"]);

// panel letters
[["a", 204], ["b", 245], ["c", 367], ["d", 488], ["e", 658]].forEach(function(p) {
  svg.append("text").attr("x", 154).attr("y", p[1])
    .style("font-size", "22px").style("font-weight", "bold").text(p[0]);
});

// legend (a)
svg.append("line").attr("x1", 155).attr("x2", 183).attr("y1", 46).attr("y2", 46)
  .attr("stroke", "#000").attr("stroke-width", 1.8);
svg.append("line").attr("x1", 155).attr("x2", 183).attr("y1", 66).attr("y2", 66)
  .attr("stroke", "#000").attr("stroke-width", 1.6).attr("stroke-dasharray", "1.2,2.4");
svg.append("text").attr("x", 193).attr("y", 51).style("font-size", "14px").text("NSIDC Merged");
svg.append("text").attr("x", 193).attr("y", 71).style("font-size", "14px").text("AMSR2-ASI");

// legend (e)
svg.append("rect").attr("x", 156).attr("y", 848).attr("width", 26).attr("height", 12)
  .attr("fill", "#000").attr("fill-opacity", 0.15);
svg.append("text").attr("x", 191).attr("y", 860).style("font-size", "14px").text("Maud Rise");
svg.append("line").attr("x1", 286).attr("x2", 313).attr("y1", 854).attr("y2", 854)
  .attr("stroke", BROWN).attr("stroke-width", 1.8).attr("stroke-dasharray", "6,4");
svg.append("text").attr("x", 320).attr("y", 860).style("font-size", "14px").text("Eastern Weddell");
</script>
</body>
</html>
